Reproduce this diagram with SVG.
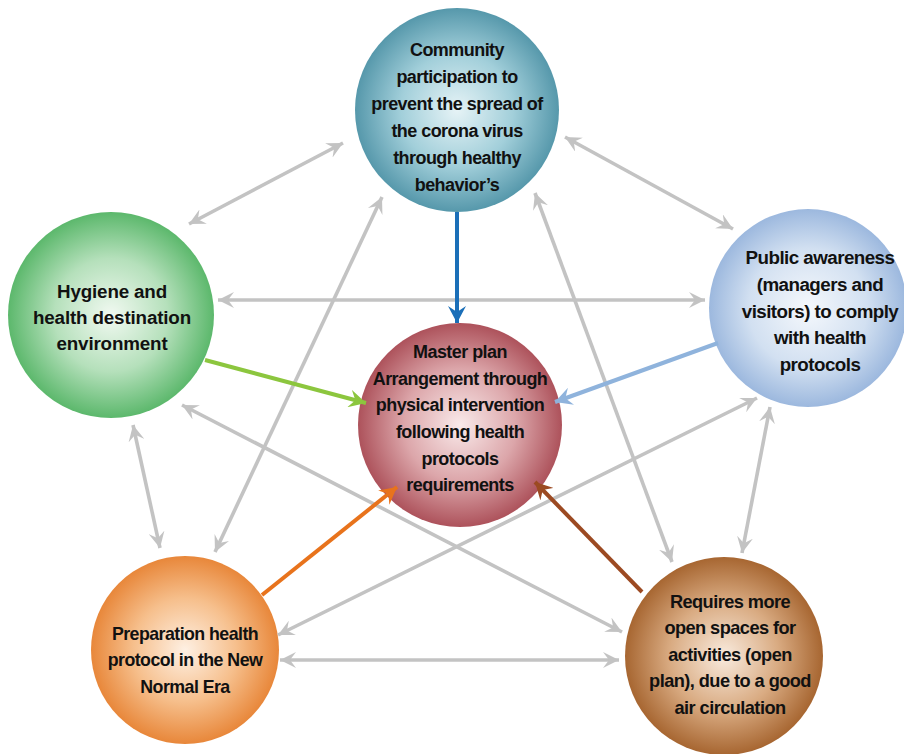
<svg xmlns="http://www.w3.org/2000/svg" width="904" height="754" viewBox="0 0 904 754">
<style>
text{font-family:"Liberation Sans",Arial,sans-serif;font-weight:bold;fill:#111;text-anchor:middle;letter-spacing:-0.55px}
.g{stroke:#c3c3c3;stroke-width:3.6;fill:none;marker-start:url(#mg);marker-end:url(#mg)}
.c{stroke-width:4;fill:none}
</style>
<defs>
<marker id="mg" markerUnits="userSpaceOnUse" markerWidth="17" markerHeight="16" refX="16" refY="8" orient="auto-start-reverse"><path d="M0,0 L16,8 L0,16 L6,8 z" fill="#c3c3c3"/></marker>
<marker id="mb" markerUnits="userSpaceOnUse" markerWidth="18" markerHeight="18" refX="17" refY="9" orient="auto"><path d="M0,0 L17,9 L0,18 L6,9 z" fill="#1b6fb8"/></marker>
<marker id="mgr" markerUnits="userSpaceOnUse" markerWidth="18" markerHeight="18" refX="17" refY="9" orient="auto"><path d="M0,0 L17,9 L0,18 L6,9 z" fill="#8cc63e"/></marker>
<marker id="mlb" markerUnits="userSpaceOnUse" markerWidth="18" markerHeight="18" refX="17" refY="9" orient="auto"><path d="M0,0 L17,9 L0,18 L6,9 z" fill="#8fb3dc"/></marker>
<marker id="mo" markerUnits="userSpaceOnUse" markerWidth="18" markerHeight="18" refX="17" refY="9" orient="auto"><path d="M0,0 L17,9 L0,18 L6,9 z" fill="#e8731c"/></marker>
<marker id="mbr" markerUnits="userSpaceOnUse" markerWidth="18" markerHeight="18" refX="17" refY="9" orient="auto"><path d="M0,0 L17,9 L0,18 L6,9 z" fill="#9c4a22"/></marker>
<radialGradient id="gT" cx="50%" cy="50%" r="50%"><stop offset="0" stop-color="#e6f3f6"/><stop offset="0.55" stop-color="#a2cfda"/><stop offset="1" stop-color="#5698ab"/></radialGradient>
<radialGradient id="gL" cx="50%" cy="50%" r="50%"><stop offset="0" stop-color="#f1f9f1"/><stop offset="0.55" stop-color="#b5e0bb"/><stop offset="1" stop-color="#5cb86c"/></radialGradient>
<radialGradient id="gR" cx="50%" cy="50%" r="50%"><stop offset="0" stop-color="#f5f8fc"/><stop offset="0.6" stop-color="#d2e0f1"/><stop offset="1" stop-color="#9cb8de"/></radialGradient>
<radialGradient id="gC" cx="50%" cy="50%" r="50%"><stop offset="0" stop-color="#f9eaea"/><stop offset="0.55" stop-color="#dca6aa"/><stop offset="1" stop-color="#ad525b"/></radialGradient>
<radialGradient id="gBL" cx="50%" cy="50%" r="50%"><stop offset="0" stop-color="#fef0e3"/><stop offset="0.55" stop-color="#f6bf8c"/><stop offset="1" stop-color="#e8873a"/></radialGradient>
<radialGradient id="gBR" cx="50%" cy="50%" r="50%"><stop offset="0" stop-color="#f9ebde"/><stop offset="0.55" stop-color="#d9ab82"/><stop offset="1" stop-color="#a76631"/></radialGradient>
</defs>

<g id="node-top">
<circle cx="457" cy="110" r="102" fill="url(#gT)"/>
<text font-size="18"><tspan x="457" y="56">Community</tspan><tspan x="457" y="83">participation to</tspan><tspan x="457" y="110">prevent the spread of</tspan><tspan x="457" y="137">the corona virus</tspan><tspan x="457" y="164">through healthy</tspan><tspan x="457" y="191">behavior’s</tspan></text>
</g>
<g id="node-left">
<circle cx="111" cy="315" r="103" fill="url(#gL)"/>
<text font-size="18.8" style="letter-spacing:-0.15px"><tspan x="112" y="298">Hygiene and</tspan><tspan x="112" y="324">health destination</tspan><tspan x="112" y="350">environment</tspan></text>
</g>
<g id="node-right">
<circle cx="808" cy="308" r="99" fill="url(#gR)"/>
<text font-size="18.8"><tspan x="820" y="264">Public awareness</tspan><tspan x="820" y="291">(managers and</tspan><tspan x="820" y="318">visitors) to comply</tspan><tspan x="820" y="344">with health</tspan><tspan x="820" y="371">protocols</tspan></text>
</g>
<g id="node-center">
<circle cx="460" cy="425" r="102" fill="url(#gC)"/>
<text font-size="18"><tspan x="460" y="358">Master plan</tspan><tspan x="460" y="385">Arrangement through</tspan><tspan x="460" y="411">physical intervention</tspan><tspan x="460" y="438">following health</tspan><tspan x="460" y="465">protocols</tspan><tspan x="460" y="491">requirements</tspan></text>
</g>
<g id="node-bottom-left">
<circle cx="185" cy="650" r="94" fill="url(#gBL)"/>
<text font-size="17.8"><tspan x="185" y="640">Preparation health</tspan><tspan x="185" y="666">protocol in the New</tspan><tspan x="185" y="693">Normal Era</tspan></text>
</g>
<g id="node-bottom-right">
<circle cx="724" cy="656" r="99" fill="url(#gBR)"/>
<text font-size="18.2"><tspan x="730" y="608">Requires more</tspan><tspan x="730" y="634">open spaces for</tspan><tspan x="730" y="661">activities (open</tspan><tspan x="730" y="687">plan), due to a good</tspan><tspan x="730" y="714">air circulation</tspan></text>
</g>

<g id="connectors">
<line class="g" x1="189" y1="224" x2="343" y2="143"/>
<line class="g" x1="565" y1="137" x2="733" y2="229"/>
<line class="g" x1="218" y1="300" x2="705" y2="300"/>
<line class="g" x1="133" y1="425" x2="160" y2="548"/>
<line class="g" x1="770" y1="407" x2="742" y2="553"/>
<line class="g" x1="280" y1="660" x2="619" y2="660"/>
<line class="g" x1="382" y1="197" x2="215" y2="552"/>
<line class="g" x1="535" y1="193" x2="672" y2="562"/>
<line class="g" x1="182" y1="405" x2="622" y2="632"/>
<line class="g" x1="757" y1="398" x2="278" y2="635"/>
<line class="c" stroke="#1b6fb8" x1="457" y1="212" x2="457" y2="323" marker-end="url(#mb)"/>
<line class="c" stroke="#8cc63e" x1="205" y1="360" x2="366" y2="403" marker-end="url(#mgr)"/>
<line class="c" stroke="#8fb3dc" x1="718" y1="343" x2="555" y2="402" marker-end="url(#mlb)"/>
<line class="c" stroke="#e8731c" x1="262" y1="595" x2="397" y2="487" marker-end="url(#mo)"/>
<line class="c" stroke="#9c4a22" x1="642" y1="592" x2="535" y2="482" marker-end="url(#mbr)"/>
</g>
</svg>
